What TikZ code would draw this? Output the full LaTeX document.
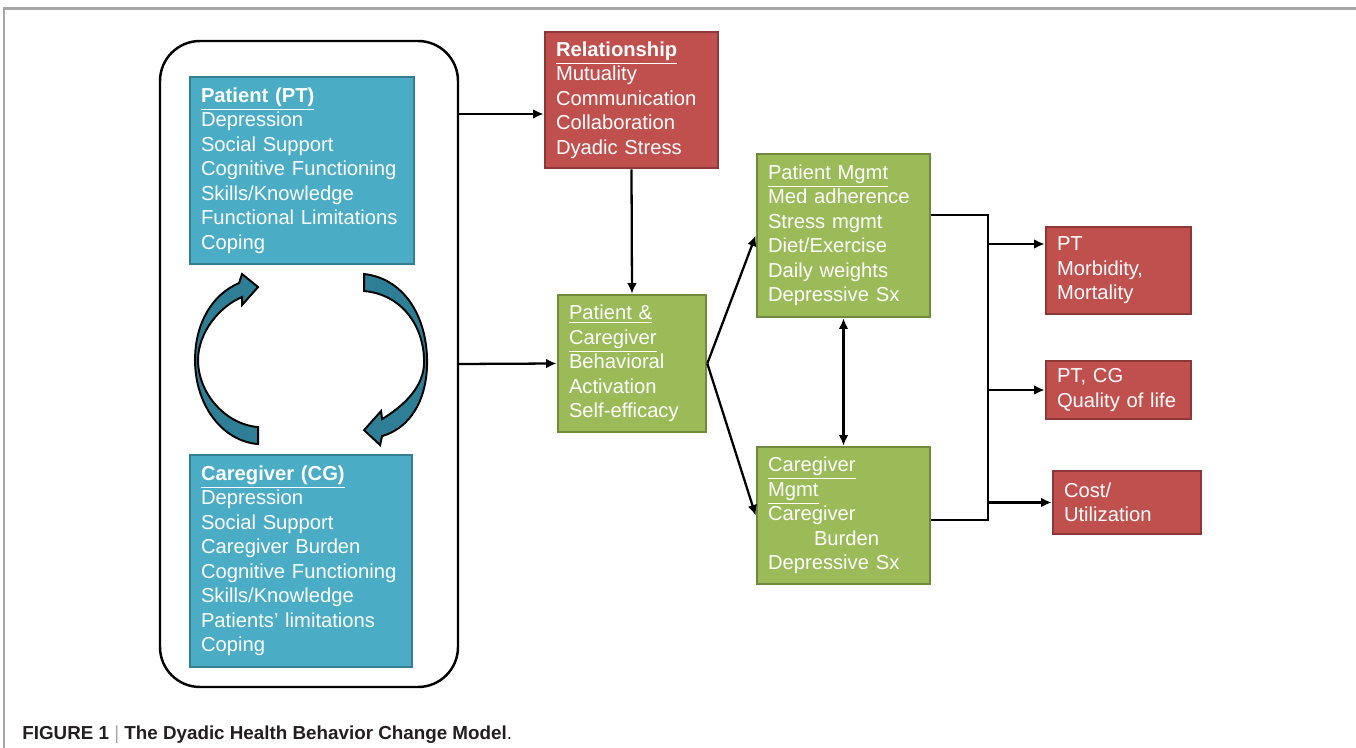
\documentclass[tikz,border=0pt]{standalone}
\usepackage{fontspec}
\setmainfont{Liberation Sans}
\usetikzlibrary{arrows.meta}

\definecolor{blufill}{RGB}{75,172,198}
\definecolor{bluedge}{RGB}{53,125,145}
\definecolor{redfill}{RGB}{192,80,77}
\definecolor{rededge}{RGB}{140,56,54}
\definecolor{grnfill}{RGB}{155,187,89}
\definecolor{grnedge}{RGB}{113,137,63}
\definecolor{loopblue}{RGB}{46,127,149}
\definecolor{framegray}{RGB}{166,166,166}
\definecolor{captext}{RGB}{35,31,32}

\begin{document}
\begin{tikzpicture}[
    >={Latex[length=6pt,width=5.5pt]},
    every node/.style={font=\fontsize{11.5}{13.94}\selectfont},
    boxsize/.style 2 args={text width=#1, minimum height=#2},
    factor/.style={draw=bluedge, fill=blufill, line width=1.5pt, text=white, align=left, inner xsep=0.22cm},
    process/.style={draw=grnedge, fill=grnfill, line width=1.5pt, text=white, align=left, inner xsep=0.22cm},
    outcome/.style={draw=rededge, fill=redfill, line width=1.5pt, text=white, align=left, inner xsep=0.22cm},
    link/.style={line width=1.3pt},
    loopfill/.style={fill=loopblue, draw=black, line width=1.1pt}
  ]
        \useasboundingbox (0,0) rectangle (27.12,-14.96);
        \draw[framegray, line width=1.2pt] (0.08,-14.96) |- (27.12,-0.17);

        \node[draw, rounded corners=0.8cm, line width=1.4pt, minimum width=5.96cm, minimum height=12.92cm] (DYAD) at (6.18,-7.28) {};
        \node[factor, boxsize={4.04cm}{3.74cm}] (PT) at (6.04,-3.41) {
            \textbf{\underline{Patient (PT)}}\\Depression\\Social Support\\Cognitive Functioning\\Skills/Knowledge\\Functional Limitations\\Coping
        };
        \node[factor, boxsize={4.00cm}{4.24cm}] (CG) at (6.02,-11.22) {
            \textbf{\underline{Caregiver (CG)}}\\Depression\\Social Support\\Caregiver Burden\\Cognitive Functioning\\Skills/Knowledge\\Patients’ limitations\\Coping
        };
        \node[outcome, boxsize={3.02cm}{2.72cm}] (REL) at (12.63,-2.00) {
            \textbf{\underline{Relationship}}\\Mutuality\\Communication\\Collaboration\\Dyadic Stress
        };
        \node[process, boxsize={2.52cm}{2.74cm}] (PCG) at (12.64,-7.27) {
            \underline{Patient \&}\\\underline{Caregiver}\\Behavioral\\Activation\\Self-efficacy
        };
        \node[process, boxsize={3.02cm}{3.26cm}] (PTM) at (16.87,-4.71) {
            \underline{Patient Mgmt}\\Med adherence\\Stress mgmt\\Diet/Exercise\\Daily weights\\Depressive Sx
        };
        \node[process, boxsize={3.02cm}{2.74cm}] (CGM) at (16.87,-10.31) {
            \underline{Caregiver}\\\underline{Mgmt}\\Caregiver\\\hspace*{0.92cm}Burden\\Depressive Sx
        };
        \node[outcome, boxsize={2.46cm}{1.74cm}] (MORB) at (22.37,-5.41) {
            PT\\Morbidity,\\Mortality
        };
        \node[outcome, boxsize={2.46cm}{1.16cm}] (QOL) at (22.37,-7.80) {
            PT, CG\\Quality of life
        };
        \node[outcome, boxsize={2.52cm}{1.26cm}] (COST) at (22.54,-10.05) {
            Cost/\\Utilization
        };
        \node[anchor=base west, inner sep=0, text=captext, font=\fontsize{10.7}{12}\selectfont\bfseries] (CAPTION) at (0.44,-14.78) {
            FIGURE 1 {\mdseries\color{framegray}|} The Dyadic Health Behavior Change Model{\mdseries .}
        };

        % curved arrows between patient and caregiver
        \begin{scope}[x=0.02cm, y=-0.02cm]
            \filldraw[loopfill] (258,444) .. controls (222,441) and (195,405) .. (195,360)
                .. controls (195,322) and (213,294) .. (239,283)
                -- (242,274) -- (258,287) -- (242,305) -- (242,297)
                .. controls (220,306) and (198,332) .. (198,360)
                .. controls (198,392) and (224,424) .. (258,427) -- cycle;
            \filldraw[loopfill] (364,274) .. controls (402,278) and (427,314) .. (427,362)
                .. controls (427,400) and (410,428) .. (382,436)
                -- (380,445) -- (364,430) -- (381,411) -- (382,419)
                .. controls (405,405) and (424,386) .. (424,362)
                .. controls (424,324) and (400,294) .. (364,291) -- cycle;
        \end{scope}

        \coordinate (RELIN) at ([yshift=-0.28cm]REL.west);
        \coordinate (BUSTOP) at (19.76,-4.30);
        \coordinate (BUSBOT) at (19.76,-10.40);
        \coordinate (MORBIN) at ([yshift=0.53cm]MORB.west);
        \draw[link, ->] (DYAD.east |- RELIN) -- (RELIN);
        \draw[link, ->] (DYAD.east) -- (PCG.west);
        \draw[link, ->] (REL.south) -- (PCG.north);
        \draw[link, ->] (PCG.east) -- (PTM.west);
        \draw[link, ->] (PCG.east) -- (CGM.west);
        \draw[link, <->] (PTM.south) -- (CGM.north);
        \draw[link] (PTM.east |- BUSTOP) -- (BUSTOP) -- (BUSBOT) -- (CGM.east |- BUSBOT);
        \draw[link, ->] (BUSTOP |- MORBIN) -- (MORBIN);
        \draw[link, ->] (BUSTOP |- QOL.west) -- (QOL.west);
        \draw[link, ->] (BUSTOP |- COST.west) -- (COST.west);
\end{tikzpicture}
\end{document}
